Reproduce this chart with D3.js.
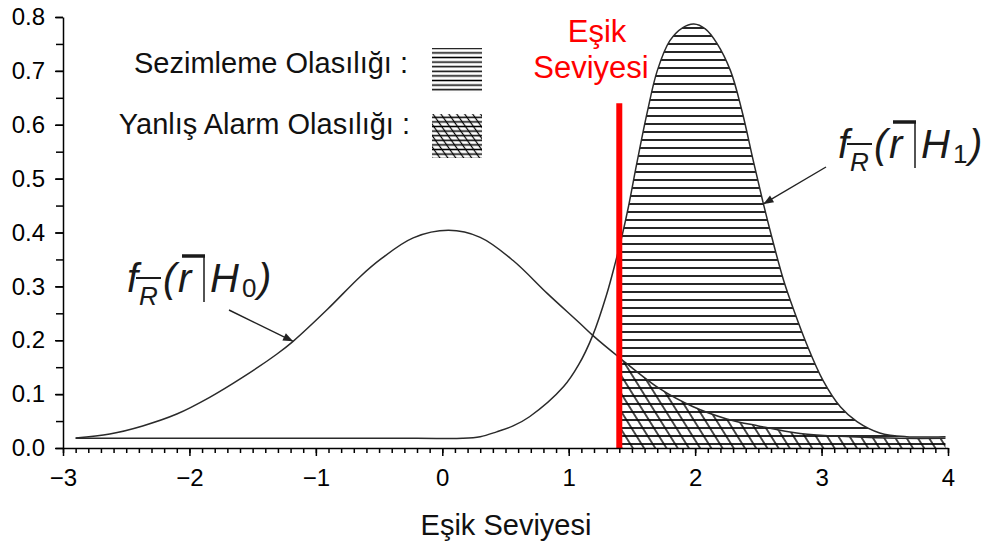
<!DOCTYPE html>
<html>
<head>
<meta charset="utf-8">
<script src="https://cdn.jsdelivr.net/npm/d3@7"></script>
<style>
  html, body { margin: 0; padding: 0; background: #fff; }
  svg { display: block; }
  text { font-family: "Liberation Sans", Arial, Helvetica, sans-serif; }
</style>
</head>
<body>
<svg id="chart" width="992" height="545"></svg>
<script>
// Densities of the decision statistic under H0 (noise only) and H1 (signal present)
const h0X = [-2.9, -2.63, -2.37, -2.10, -1.84, -1.58, -1.31, -1.18, -0.91, -0.65, -0.49, -0.23, 0.05, 0.30, 0.56, 0.83, 1.09, 1.19, 1.40, 1.72, 1.98, 2.25, 2.50, 2.83, 3.23, 3.62, 3.98];
const h0Y = [0.0185, 0.026, 0.041, 0.063, 0.094, 0.131, 0.174, 0.198, 0.257, 0.318, 0.350, 0.390, 0.404, 0.391, 0.348, 0.287, 0.231, 0.209, 0.168, 0.110, 0.077, 0.054, 0.041, 0.027, 0.021, 0.018, 0.018];

const h1X = [-2.9, -1.5, -0.2, 0.16, 0.30, 0.43, 0.56, 0.69, 0.96, 1.08, 1.19, 1.30, 1.37, 1.42, 1.47, 1.54, 1.62, 1.70, 1.80, 1.90, 1.99, 2.08, 2.17, 2.28, 2.37, 2.46, 2.54, 2.62, 2.70, 2.78, 2.88, 3.01, 3.15, 3.28, 3.46, 3.67, 3.98];
const h1Y = [0.018, 0.018, 0.018, 0.018, 0.021, 0.030, 0.041, 0.058, 0.114, 0.155, 0.209, 0.285, 0.345, 0.392, 0.445, 0.530, 0.622, 0.700, 0.756, 0.780, 0.787, 0.778, 0.752, 0.700, 0.626, 0.533, 0.453, 0.379, 0.311, 0.256, 0.194, 0.126, 0.076, 0.049, 0.028, 0.021, 0.021];

// Decision threshold and the height of its marker
const threshold = 1.4;
const thresholdTop = 0.64;

const xTicks = [-3, -2, -1, 0, 1, 2, 3, 4];
const yTicks = [0, 0.1, 0.2, 0.3, 0.4, 0.5, 0.6, 0.7, 0.8];
const xTitle = "Eşik Seviyesi";
const thresholdLabel = ["Eşik", "Seviyesi"];
const legendLabels = ["Sezimleme Olasılığı :", "Yanlış Alarm Olasılığı :"];

const svg = d3.select("#chart");
const x = d3.scaleLinear().domain([-3, 4]).range([63, 948]);
const y = d3.scaleLinear().domain([0, 0.8]).range([448, 17]);

const h0 = h0X.map((v, i) => [v, h0Y[i]]);
const h1 = h1X.map((v, i) => [v, h1Y[i]]);

// ---- hatch patterns ----
const defs = svg.append("defs");
const pH = defs.append("pattern").attr("id", "hatchH")
  .attr("patternUnits", "userSpaceOnUse").attr("width", 20).attr("height", 8)
  .attr("y", 448);
pH.append("line").attr("x1", 0).attr("x2", 20).attr("y1", 4).attr("y2", 4)
  .attr("stroke", "#000").attr("stroke-width", 1.7);

const pD = defs.append("pattern").attr("id", "hatchD")
  .attr("patternUnits", "userSpaceOnUse").attr("width", 9.5).attr("height", 20)
  .attr("patternTransform", "rotate(-32)");
pD.append("line").attr("x1", 4.75).attr("x2", 4.75).attr("y1", 0).attr("y2", 20)
  .attr("stroke", "#000").attr("stroke-width", 1.4);

const pHs = defs.append("pattern").attr("id", "hatchHsmall")
  .attr("patternUnits", "userSpaceOnUse").attr("width", 20).attr("height", 4.6);
pHs.append("line").attr("x1", 0).attr("x2", 20).attr("y1", 2.3).attr("y2", 2.3)
  .attr("stroke", "#000").attr("stroke-width", 1.5);

const pDs = defs.append("pattern").attr("id", "hatchDsmall")
  .attr("patternUnits", "userSpaceOnUse").attr("width", 6.5).attr("height", 20)
  .attr("patternTransform", "rotate(-35)");
pDs.append("line").attr("x1", 3.25).attr("x2", 3.25).attr("y1", 0).attr("y2", 20)
  .attr("stroke", "#000").attr("stroke-width", 1.2);

defs.append("clipPath").attr("id", "rightOfThreshold")
  .append("rect")
  .attr("x", x(threshold)).attr("y", 0)
  .attr("width", x(4) - x(threshold)).attr("height", y(0));

defs.append("marker").attr("id", "arrowHead")
  .attr("viewBox", "0 0 10 10").attr("refX", 10).attr("refY", 5)
  .attr("markerUnits", "userSpaceOnUse")
  .attr("markerWidth", 15).attr("markerHeight", 10).attr("orient", "auto")
  .append("path").attr("d", "M0,1 L10,5 L0,9 Z").attr("fill", "#222");

// ---- shaded tail areas ----
const curve = d3.curveCatmullRom.alpha(0.5);
const area = d3.area().curve(curve)
  .x(d => x(d[0])).y0(y(0)).y1(d => y(d[1]));

svg.append("path").datum(h1)
  .attr("d", area).attr("fill", "url(#hatchH)")
  .attr("clip-path", "url(#rightOfThreshold)");
svg.append("path").datum(h0)
  .attr("d", area).attr("fill", "url(#hatchD)")
  .attr("clip-path", "url(#rightOfThreshold)");

// ---- density curves ----
const line = d3.line().curve(curve)
  .x(d => x(d[0])).y(d => y(d[1]));
[h0, h1].forEach(s => {
  svg.append("path").datum(s).attr("d", line)
    .attr("fill", "none").attr("stroke", "#2a2a2a").attr("stroke-width", 1.5);
});

// ---- threshold marker ----
svg.append("line")
  .attr("x1", x(threshold)).attr("x2", x(threshold))
  .attr("y1", y(0)).attr("y2", y(thresholdTop))
  .attr("stroke", "#ff0000").attr("stroke-width", 6);

svg.append("text").attr("x", 597).attr("y", 42)
  .attr("text-anchor", "middle").attr("font-size", 31).attr("fill", "#ff0000")
  .text(thresholdLabel[0]);
svg.append("text").attr("x", 591).attr("y", 78)
  .attr("text-anchor", "middle").attr("font-size", 31).attr("fill", "#ff0000")
  .text(thresholdLabel[1]);

// ---- axes ----
const axisX = svg.append("g").attr("transform", `translate(0,${y(0)})`)
  .call(d3.axisBottom(x).tickValues(xTicks).tickSize(8).tickSizeOuter(0).tickPadding(13)
    .tickFormat(d3.format("d")));
svg.append("g").attr("transform", `translate(0,${y(0)})`)
  .call(d3.axisBottom(x).tickValues(d3.range(-30, 41).map(d => d / 10)).tickSize(5).tickFormat("").tickSizeOuter(0))
  .select(".domain").remove();
axisX.selectAll("text").attr("font-size", 24).attr("fill", "#000");

const axisY = svg.append("g").attr("transform", `translate(${x(-3)},0)`)
  .call(d3.axisLeft(y).tickValues(yTicks).tickSize(8).tickSizeOuter(0).tickPadding(10)
    .tickFormat(d3.format(".1f")));
svg.append("g").attr("transform", `translate(${x(-3)},0)`)
  .call(d3.axisLeft(y).tickValues(d3.range(0, 17).map(d => d * 0.05)).tickSize(7).tickFormat(""))
  .select(".domain").remove();
axisY.selectAll("text").attr("font-size", 24).attr("fill", "#000");

svg.selectAll(".domain, .tick line").attr("stroke", "#000").attr("stroke-width", 1.5);
svg.selectAll(".tick text").attr("font-family", "\"Liberation Sans\", Arial, sans-serif");

svg.append("text").attr("x", 506).attr("y", 535)
  .attr("text-anchor", "middle").attr("font-size", 29).attr("fill", "#111")
  .text(xTitle);

// ---- legend ----
svg.append("text").attr("x", 408).attr("y", 73).attr("text-anchor", "end")
  .attr("font-size", 29).attr("fill", "#111").text(legendLabels[0]);
svg.append("text").attr("x", 410).attr("y", 134).attr("text-anchor", "end")
  .attr("font-size", 29).attr("fill", "#111").text(legendLabels[1]);

svg.append("rect").attr("x", 432).attr("y", 48).attr("width", 50).attr("height", 45)
  .attr("fill", "url(#hatchHsmall)");
svg.append("rect").attr("x", 432).attr("y", 114).attr("width", 50).attr("height", 44)
  .attr("fill", "url(#hatchHsmall)");
svg.append("rect").attr("x", 432).attr("y", 114).attr("width", 50).attr("height", 44)
  .attr("fill", "url(#hatchDsmall)");

// ---- density labels  f_R(r|H_k) with arrows ----
function densityLabel(x0, base, sub) {
  const g = svg.append("g").attr("transform", `translate(${x0},${base})`)
    .attr("fill", "#1a1a1a");
  const big = 40, small = 26;
  g.append("text").attr("x", 0).attr("y", 0).attr("font-size", big)
    .attr("font-style", "italic").text("f");
  g.append("text").attr("x", 12).attr("y", 13).attr("font-size", small)
    .attr("font-style", "italic").text("R");
  g.append("line").attr("x1", 9).attr("x2", 34).attr("y1", -14).attr("y2", -14)
    .attr("stroke", "#1a1a1a").attr("stroke-width", 2);
  g.append("text").attr("x", 36).attr("y", 0).attr("font-size", big)
    .attr("font-style", "italic").text("(");
  g.append("text").attr("x", 51).attr("y", 0).attr("font-size", big)
    .attr("font-style", "italic").text("r");
  g.append("line").attr("x1", 55).attr("x2", 78).attr("y1", -36).attr("y2", -36)
    .attr("stroke", "#1a1a1a").attr("stroke-width", 3.5);
  g.append("line").attr("x1", 77).attr("x2", 77).attr("y1", -36).attr("y2", 10)
    .attr("stroke", "#1a1a1a").attr("stroke-width", 1.5);
  g.append("text").attr("x", 83).attr("y", 0).attr("font-size", big)
    .attr("font-style", "italic").text("H");
  g.append("text").attr("x", 115).attr("y", 5).attr("font-size", small)
    .text(sub);
  g.append("text").attr("x", 131).attr("y", 0).attr("font-size", big)
    .attr("font-style", "italic").text(")");
}
densityLabel(838, 158, "1");
densityLabel(127, 292, "0");

svg.append("line").attr("x1", 826).attr("y1", 167)
  .attr("x2", x(2.54)).attr("y2", y(0.453))
  .attr("stroke", "#222").attr("stroke-width", 1.4)
  .attr("marker-end", "url(#arrowHead)");
svg.append("line").attr("x1", 229).attr("y1", 310)
  .attr("x2", x(-1.18)).attr("y2", y(0.198))
  .attr("stroke", "#222").attr("stroke-width", 1.4)
  .attr("marker-end", "url(#arrowHead)");
</script>
</body>
</html>
